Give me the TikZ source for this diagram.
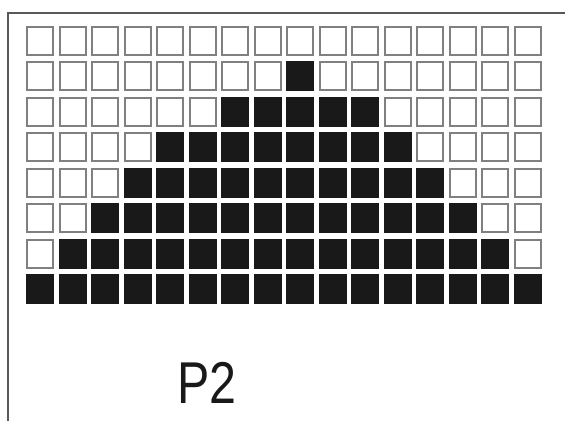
\documentclass[tikz,border=0pt]{standalone}
\usepackage{fontspec}
\newfontfamily\labelfont[FakeStretch=0.82]{Liberation Sans}
\begin{document}
\begin{tikzpicture}[x=1pt,y=-1pt,
  framestyle/.style={draw=black!65,line width=1.3pt},
  whitecell/.style={draw=black!50,line width=2pt,fill=white},
  blackcell/.style={fill=black!90},
  labelstyle/.style={font=\labelfont\fontsize{59}{59}\selectfont,text=black!90,inner sep=0pt,anchor=base}]
\useasboundingbox (0,0) rectangle (565,421);
\fill[white] (0,0) rectangle (565,421);
\draw[framestyle] (565,13) -- (8,13) -- (8,421);
\foreach \r/\a/\b in {0/99/-1,1/8/8,2/6/10,3/4/11,4/3/12,5/2/13,6/1/14,7/0/15}{
  \foreach \c in {0,...,15}{
    \pgfmathsetmacro\xx{26+32.5*\c}
    \pgfmathsetmacro\yy{26+35.45*\r}
    \pgfmathtruncatemacro\isblack{and(\c>=\a,\c<=\b)}
    \ifnum\isblack=1
      \fill[blackcell] (\xx,\yy) rectangle ++(28,30);
    \else
      \draw[whitecell] (\xx+1,\yy+1) rectangle ++(26,28);
    \fi
  }
}
\node[labelstyle] (label) at (207,403) {P2};
\end{tikzpicture}
\end{document}
